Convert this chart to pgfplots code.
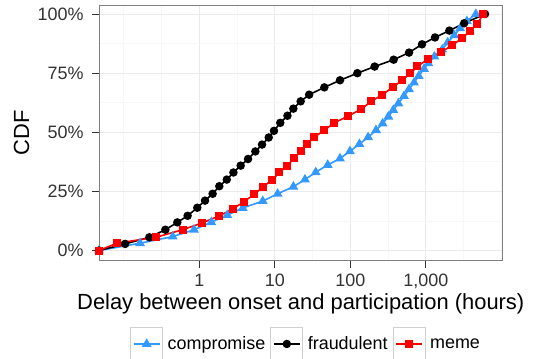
\documentclass[border=0pt]{standalone}
\usepackage{pgfplots}
\pgfplotsset{compat=1.18}
\usepackage{pgfplotstable}
\usepackage{fontspec}
\setmainfont{Liberation Sans}
\definecolor{cblue}{HTML}{3399FF}
\definecolor{cred}{HTML}{FF0000}
\definecolor{gridmaj}{HTML}{EBEBEB}
\definecolor{gridmin}{HTML}{F7F7F7}
\definecolor{framec}{HTML}{7F7F7F}
\definecolor{tickc}{HTML}{333333}
\definecolor{keyc}{HTML}{D0D0D0}

\pgfplotstableread{
x y
0.047 0
0.164 0.031
0.444 0.059
0.851 0.088
1.44 0.120
2.35 0.150
3.76 0.180
6.92 0.209
10.9 0.240
17.6 0.270
25.1 0.300
34.8 0.331
50.2 0.362
73 0.389
99 0.420
132 0.450
172 0.479
219 0.509
268 0.537
319 0.566
371 0.594
433 0.622
514 0.653
599 0.682
698 0.710
805 0.738
946 0.768
1080 0.792
1300 0.820
1650 0.850
1950 0.880
2380 0.910
2850 0.940
3500 0.970
4600 1.0
}\compromise

\pgfplotstableread{
x y
0.047 0
0.104 0.028
0.218 0.056
0.355 0.088
0.511 0.119
0.70 0.147
0.94 0.181
1.19 0.211
1.50 0.240
1.84 0.272
2.31 0.300
2.83 0.330
3.53 0.359
4.42 0.387
5.52 0.419
6.77 0.448
8.30 0.478
9.75 0.506
11.8 0.540
14.7 0.570
17.6 0.600
22.0 0.631
28.5 0.659
45.3 0.690
73 0.720
124 0.750
210 0.778
375 0.807
600 0.837
890 0.872
1324 0.901
2050 0.930
3220 0.961
6085 1.0
}\fraudulent

\pgfplotstableread{
x y
0.047 0
0.0805 0.031
0.267 0.056
0.60 0.088
1.10 0.117
1.81 0.146
2.77 0.175
3.91 0.207
5.35 0.238
7.04 0.270
9.27 0.300
11.5 0.330
14.7 0.359
17.9 0.390
22.0 0.420
26.4 0.450
33.3 0.479
45.3 0.509
60.8 0.539
94.1 0.569
139 0.598
190 0.631
265 0.659
364 0.690
485 0.720
625 0.750
775 0.779
1073 0.809
1595 0.839
2230 0.868
3035 0.898
3850 0.928
4750 0.957
5800 1.0
}\meme

\begin{document}
\begin{tikzpicture}[x=1bp,y=1bp]
\useasboundingbox (0,0) rectangle (538,358);
\begin{axis}[
  at={(99bp,97.3bp)}, anchor=south west,
  width=403.5bp, height=255.4bp, scale only axis,
  xmode=log, xmin=0.0469, xmax=10375,
  ymin=-0.043, ymax=1.037,
  xtick={1,10,100,1000}, xticklabels={1,10,100,{1{,}000}},
  ytick={0,0.25,0.5,0.75,1}, yticklabels={0\%,25\%,50\%,75\%,100\%},
  minor xtick={0.1,0.3162,3.162,31.62,316.2,3162,10000},
  minor ytick={0.125,0.375,0.625,0.875},
  grid=both,
  major grid style={gridmaj, line width=1bp},
  minor grid style={gridmin, line width=0.8bp},
  axis line style={framec, line width=1bp},
  tick align=outside, xtick pos=left, ytick pos=left,
  major tick length=7bp, minor tick length=0pt,
  tick style={tickc, line width=1bp},
  minor tick style={draw=none},
  ticklabel style={font=\fontsize{18}{20}\selectfont, text=tickc},
  /pgf/number format/assume math mode=true,
  yticklabel style={anchor=east, xshift=-5bp},
  xticklabel style={anchor=base, inner sep=0pt, yshift=-18.8bp},
  xlabel={Delay between onset and participation (hours)},
  ylabel={CDF},
  label style={font=\fontsize{22}{26}\selectfont},
  xlabel style={at={(axis description cs:0.5,-0.192)}, anchor=base, inner sep=0pt},
  ylabel style={at={(axis description cs:-0.1916,0.5)}, anchor=center, rotate=0},
  legend columns=3,
  legend cell align=left,
  legend style={at={(axis description cs:0.0768,-0.326)}, anchor=west, draw=none, fill=none,
    inner sep=0pt, font=\fontsize{18}{21}\selectfont,
    nodes={inner sep=0pt},
    /tikz/every odd column/.append style={column sep=4.5bp},
    /tikz/every even column/.append style={column sep=5bp}},
  legend image code/.code={
    \draw[keyc, line width=1bp, fill=white] (0bp,-16bp) rectangle (32bp,16bp);
    \draw[#1, mark repeat=2, mark phase=2] plot coordinates {(3bp,0bp) (16bp,0bp) (29bp,0bp)};
  },
]
\addplot[cblue, line width=1.6bp, mark=triangle*, mark size=4.1bp, mark options={solid}] table[x=x,y=y]{\compromise};
\addlegendentry{compromise}
\addplot[black, line width=1.6bp, mark=*, mark size=3.4bp] table[x=x,y=y]{\fraudulent};
\addlegendentry{fraudulent}
\addplot[cred, line width=1.6bp, mark=square*, mark size=3.2bp] table[x=x,y=y]{\meme};
\addlegendentry{meme}
\end{axis}
\end{tikzpicture}
\end{document}
